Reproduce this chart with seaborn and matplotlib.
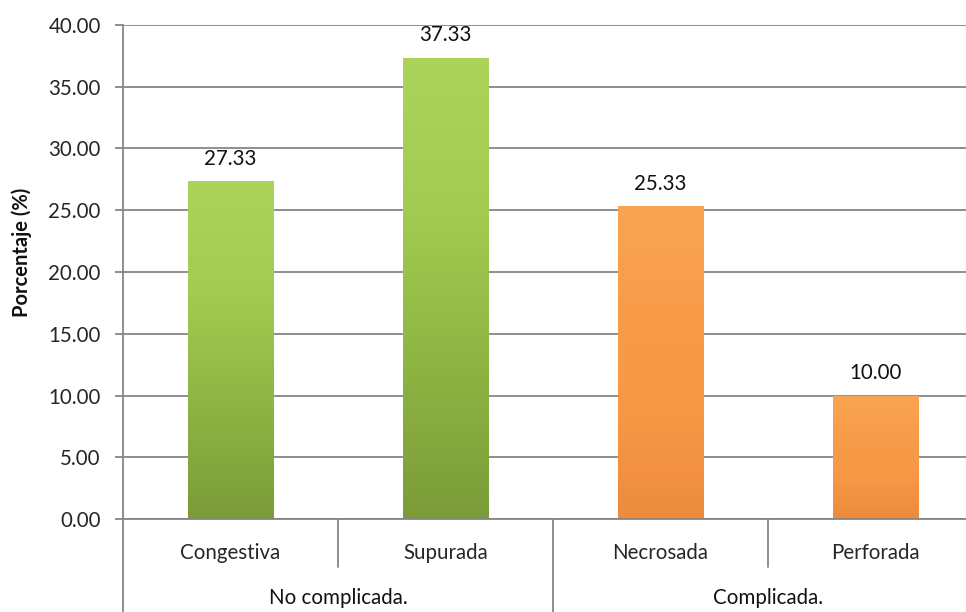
import numpy as np
import pandas as pd
import matplotlib
matplotlib.use("Agg")
import matplotlib.pyplot as plt
import matplotlib.transforms as mtransforms
from matplotlib.colors import LinearSegmentedColormap
import seaborn as sns

# ---- data ----
categories = ["Congestiva", "Supurada", "Necrosada", "Perforada"]
groups = ["No complicada.", "No complicada.", "Complicada.", "Complicada."]
values = [27.33, 37.33, 25.33, 10.00]
group_labels = ["No complicada.", "Complicada."]
yticks = [0, 5, 10, 15, 20, 25, 30, 35, 40]

sns.set_theme(style="white")
plt.rcParams["font.family"] = ["Lato", "DejaVu Sans"]

FS = 14.8
W, H = 966, 612
fig = plt.figure(figsize=(W / 100, H / 100), dpi=100)
left, right, top, bottom = 123, 983, 25, 519
ax = fig.add_axes([left / W, 1 - bottom / H, (right - left) / W, (bottom - top) / H])

df = pd.DataFrame({"cat": categories, "val": values, "grp": groups})
base_colors = {"Congestiva": "#8fb640", "Supurada": "#8fb640",
               "Necrosada": "#f79a48", "Perforada": "#f79a48"}
sns.barplot(data=df, x="cat", y="val", hue="cat", palette=base_colors,
            order=categories, width=0.4, legend=False, ax=ax, saturation=1,
            edgecolor="none", zorder=3)

# gradient fill for a bevel-like look
grad_maps = {
    "#8fb640": LinearSegmentedColormap.from_list("g", ["#7b9c39", "#8eb443", "#a3cb51", "#acd45a"]),
    "#f79a48": LinearSegmentedColormap.from_list("o", ["#ec8b3d", "#f79846", "#f89c4a", "#f9a452"]),
}
for patch, cat in zip(ax.patches, categories):
    x0, y0 = patch.get_x(), patch.get_y()
    w, h = patch.get_width(), patch.get_height()
    cmap = grad_maps[base_colors[cat]]
    grad = np.linspace(0, 1, 256).reshape(-1, 1)
    im = ax.imshow(grad, extent=[x0, x0 + w, y0, y0 + h], origin="lower",
                   cmap=cmap, aspect="auto", zorder=3.5, interpolation="bilinear")
    im.set_clip_path(patch)

ax.set_xlim(-0.5, 3.5)
ax.set_ylim(0, 40)
ax.set_yticks(yticks)
ax.set_yticklabels([f"{v:.2f}" for v in yticks], fontsize=FS)

grid_c = "#868686"
ax.yaxis.grid(True, color=grid_c, linewidth=1.3, zorder=0)
ax.set_axisbelow(True)
for s in ["top", "right", "bottom"]:
    ax.spines[s].set_visible(False)
ax.spines["left"].set_color(grid_c)
ax.spines["left"].set_linewidth(1.3)
ax.tick_params(axis="y", length=6, width=1.3, color=grid_c, pad=10, left=True)
ax.tick_params(axis="x", length=0, pad=17, labelsize=FS)
ax.set_xlabel("")
ax.set_ylabel("")

# data labels
for cont in ax.containers:
    ax.bar_label(cont, labels=[f"{v:.2f}" for v in cont.datavalues],
                 padding=9, fontsize=FS, color="#111111")

# multi-level axis lines
trans = mtransforms.blended_transform_factory(ax.transData, ax.transAxes)
px = 1 / (bottom - top)
ax.plot([-0.5, 3.5], [0, 0], transform=trans, color=grid_c, lw=1.3, clip_on=False, zorder=5)
ax.plot([-0.5, -0.5], [0, -100 * px], transform=trans, color=grid_c, lw=1.3, clip_on=False)
ax.plot([1.5, 1.5], [0, -100 * px], transform=trans, color=grid_c, lw=1.3, clip_on=False)
for xs in [0.5, 2.5]:
    ax.plot([xs, xs], [0, -48 * px], transform=trans, color=grid_c, lw=1.3, clip_on=False)

for i, g in enumerate(group_labels):
    ax.text(0.5 + 2 * i, -79 * px, g, transform=trans, ha="center", va="center",
            fontsize=FS, color="#111111")

fig.text(22 / W, 1 - 252 / H, "Porcentaje (%)", rotation=90, ha="center", va="center",
         fontsize=14.5, fontweight="bold", color="#111111")

fig.savefig("out.png", dpi=100)
